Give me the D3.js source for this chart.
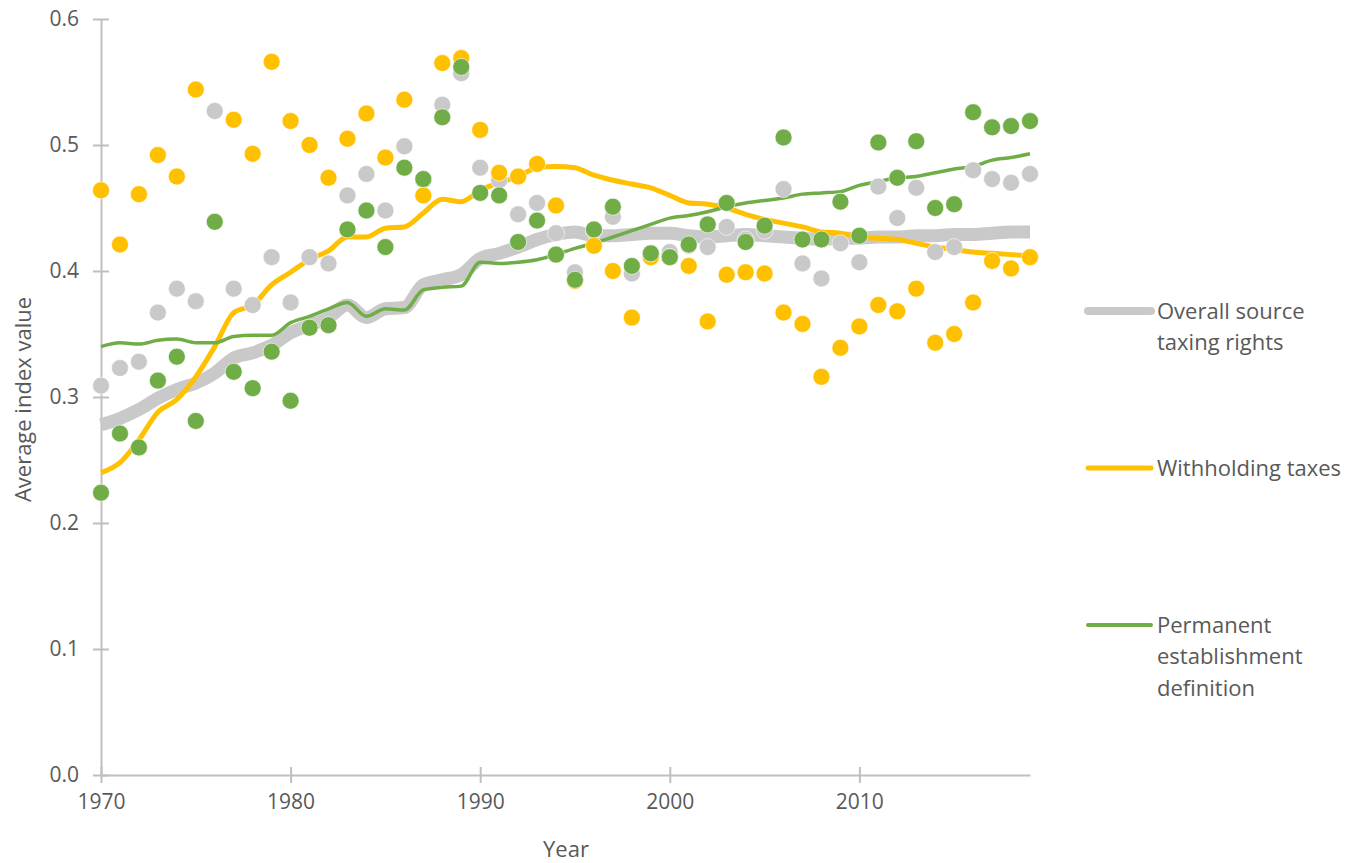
<!DOCTYPE html>
<html>
<head>
<meta charset="utf-8">
<script src="https://cdn.jsdelivr.net/npm/d3@7"></script>
<style>
  body { margin: 0; background: #fff; }
  svg text { font-family: "Open Sans", sans-serif; fill: #595959; }
</style>
</head>
<body>
<div id="chart"></div>
<script>
// years 1970..2019
var years = d3.range(1970, 2020);

// scatter values
var overall_pts = [0.309, 0.323, 0.328, 0.367, 0.386, 0.376, 0.527, 0.386, 0.373, 0.411,
                   0.375, 0.411, 0.406, 0.460, 0.477, 0.448, 0.499, 0.472, 0.532, 0.557,
                   0.482, 0.472, 0.445, 0.454, 0.430, 0.399, 0.432, 0.443, 0.398, 0.413,
                   0.415, 0.420, 0.419, 0.435, 0.425, 0.432, 0.465, 0.406, 0.394, 0.422,
                   0.407, 0.467, 0.442, 0.466, 0.415, 0.419, 0.480, 0.473, 0.470, 0.477];
var withholding_pts = [0.464, 0.421, 0.461, 0.492, 0.475, 0.544, null, 0.520, 0.493, 0.566,
                       0.519, 0.500, 0.474, 0.505, 0.525, 0.490, 0.536, 0.460, 0.565, 0.569,
                       0.512, 0.478, 0.475, 0.485, 0.452, 0.392, 0.420, 0.400, 0.363, 0.411,
                       0.411, 0.404, 0.360, 0.397, 0.399, 0.398, 0.367, 0.358, 0.316, 0.339,
                       0.356, 0.373, 0.368, 0.386, 0.343, 0.350, 0.375, 0.408, 0.402, 0.411];
var pe_pts = [0.224, 0.271, 0.260, 0.313, 0.332, 0.281, 0.439, 0.320, 0.307, 0.336,
              0.297, 0.355, 0.357, 0.433, 0.448, 0.419, 0.482, 0.473, 0.522, 0.562,
              0.462, 0.460, 0.423, 0.440, 0.413, 0.393, 0.433, 0.451, 0.404, 0.414,
              0.411, 0.421, 0.437, 0.454, 0.423, 0.436, 0.506, 0.425, 0.425, 0.455,
              0.428, 0.502, 0.474, 0.503, 0.450, 0.453, 0.526, 0.514, 0.515, 0.519];

// smoothed trend lines
var overall_line = [0.278, 0.283, 0.290, 0.299, 0.306, 0.311, 0.319, 0.331, 0.335, 0.341,
                    0.351, 0.357, 0.363, 0.373, 0.363, 0.370, 0.371, 0.389, 0.393, 0.397,
                    0.410, 0.414, 0.419, 0.425, 0.429, 0.431, 0.428, 0.428, 0.429, 0.430,
                    0.430, 0.428, 0.427, 0.428, 0.429, 0.428, 0.427, 0.426, 0.425, 0.426,
                    0.426, 0.427, 0.427, 0.428, 0.428, 0.429, 0.429, 0.430, 0.431, 0.431];
var withholding_line = [0.240, 0.248, 0.266, 0.288, 0.298, 0.316, 0.340, 0.367, 0.373, 0.389,
                        0.399, 0.409, 0.416, 0.427, 0.427, 0.434, 0.435, 0.446, 0.457, 0.455,
                        0.464, 0.470, 0.475, 0.482, 0.483, 0.482, 0.476, 0.472, 0.469, 0.466,
                        0.460, 0.454, 0.453, 0.450, 0.445, 0.441, 0.438, 0.435, 0.431, 0.430,
                        0.427, 0.426, 0.425, 0.422, 0.419, 0.417, 0.415, 0.414, 0.413, 0.412];
var pe_line = [0.340, 0.343, 0.342, 0.345, 0.346, 0.343, 0.343, 0.348, 0.349, 0.349,
               0.359, 0.364, 0.370, 0.375, 0.364, 0.370, 0.369, 0.385, 0.387, 0.388,
               0.407, 0.406, 0.407, 0.409, 0.413, 0.418, 0.422, 0.427, 0.432, 0.437,
               0.442, 0.444, 0.447, 0.451, 0.454, 0.456, 0.458, 0.461, 0.462, 0.463,
               0.468, 0.471, 0.474, 0.475, 0.478, 0.481, 0.483, 0.488, 0.490, 0.493];

var y_ticks = [0, 0.1, 0.2, 0.3, 0.4, 0.5, 0.6];
var x_ticks = [1970, 1980, 1990, 2000, 2010];

var legend_items = [
  {lines: ["Overall source", "taxing rights"], color: "#c9c9c9", width: 8},
  {lines: ["Withholding taxes"], color: "#ffc000", width: 5},
  {lines: ["Permanent", "establishment", "definition"], color: "#70ad47", width: 4}
];

var total_w = 1363, total_h = 863;
var margin = {left: 101, top: 19, right: 333, bottom: 88};
var width = total_w - margin.left - margin.right;
var height = total_h - margin.top - margin.bottom;

var svg = d3.select("#chart").append("svg")
    .attr("width", total_w)
    .attr("height", total_h);

var g = svg.append("g")
    .attr("transform", "translate(" + margin.left + "," + margin.top + ")");

var x = d3.scaleLinear().domain([1970, 2019]).range([0, width]);
var y = d3.scaleLinear().domain([0, 0.6]).range([height, 0]);

// axes
var xAxis = d3.axisBottom(x).tickValues(x_ticks).tickFormat(d3.format("d"))
    .tickSizeInner(8).tickSizeOuter(0).tickPadding(11);
var yAxis = d3.axisLeft(y).tickValues(y_ticks).tickFormat(d3.format(".1f"))
    .tickSizeInner(8).tickSizeOuter(0).tickPadding(14);

var gx = g.append("g").attr("transform", "translate(0," + height + ")").call(xAxis);
var gy = g.append("g").call(yAxis);

[gx, gy].forEach(function(a) {
  a.select(".domain").attr("stroke", "#bfbfbf").attr("stroke-width", 2);
  a.selectAll(".tick line").attr("stroke", "#bfbfbf").attr("stroke-width", 2);
  a.selectAll(".tick text").style("font-size", "21px").attr("fill", "#595959")
    .style("font-family", "'Open Sans', sans-serif");
});
// ticks cross the axis line
gx.selectAll(".tick line").attr("y1", -8).attr("y2", 8);
gy.selectAll(".tick line").attr("x1", -8).attr("x2", 8);

// axis titles
g.append("text")
    .attr("x", 566 - margin.left).attr("y", height + 82)
    .attr("text-anchor", "middle")
    .style("font-size", "22px")
    .text("Year");

g.append("text")
    .attr("transform", "translate(" + (-70) + "," + (y(0.298)) + ") rotate(-90)")
    .attr("text-anchor", "middle")
    .style("font-size", "22px")
    .text("Average index value");

// trend lines
var line = d3.line()
    .x(function(d, i) { return x(years[i]); })
    .y(function(d) { return y(d); })
    .curve(d3.curveMonotoneX);

g.append("path").datum(overall_line)
    .attr("fill", "none").attr("stroke", "#c9c9c9").attr("stroke-width", 13)
    .attr("stroke-linejoin", "round").attr("d", line);
g.append("path").datum(withholding_line)
    .attr("fill", "none").attr("stroke", "#ffc000").attr("stroke-width", 5)
    .attr("stroke-linejoin", "round").attr("d", line);
g.append("path").datum(pe_line)
    .attr("fill", "none").attr("stroke", "#70ad47").attr("stroke-width", 3.5)
    .attr("stroke-linejoin", "round").attr("d", line);

// points
function draw_points(vals, color) {
  g.append("g").selectAll("circle")
      .data(vals.map(function(v, i) { return {year: years[i], v: v}; })
                .filter(function(d) { return d.v !== null; }))
    .enter().append("circle")
      .attr("cx", function(d) { return x(d.year); })
      .attr("cy", function(d) { return y(d.v); })
      .attr("r", 8.5)
      .attr("fill", color)
      .attr("stroke", "#fff")
      .attr("stroke-width", 0.6);
}
draw_points(overall_pts, "#c9c9c9");
draw_points(withholding_pts, "#ffc000");
draw_points(pe_pts, "#70ad47");

// legend
var legend_y = [311, 468, 625];
var lg = svg.append("g");
legend_items.forEach(function(item, i) {
  var row = lg.append("g").attr("transform", "translate(0," + legend_y[i] + ")");
  row.append("line")
      .attr("x1", 1088).attr("x2", 1151).attr("y1", 0).attr("y2", 0)
      .attr("stroke", item.color).attr("stroke-width", item.width)
      .attr("stroke-linecap", "round");
  item.lines.forEach(function(t, j) {
    row.append("text")
        .attr("x", 1157).attr("y", j * 31.5)
        .attr("dy", "0.35em")
        .style("font-size", "22px")
        .text(t);
  });
});
</script>
</body>
</html>
